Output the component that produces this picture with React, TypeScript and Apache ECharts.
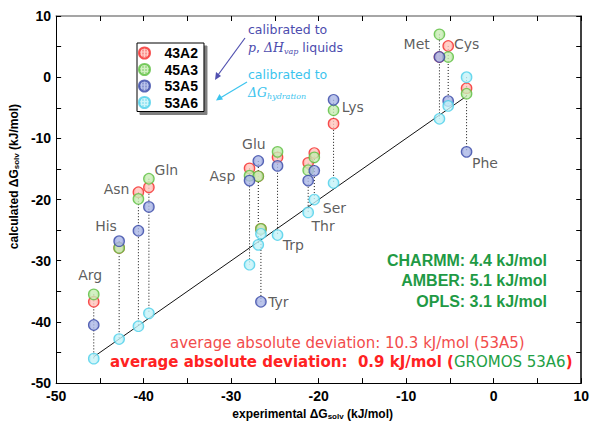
import React, { useEffect, useRef } from 'react';
import * as echarts from 'echarts';

// amino-acid side-chain analogues
const aminoAcids = ['Arg', 'His', 'Asn', 'Gln', 'Asp', 'Glu', 'Tyr', 'Trp', 'Thr', 'Ser', 'Lys', 'Met', 'Cys', 'Phe'];
// experimental ΔG_solv (kJ/mol)
const experimental = [-45.7, -42.8, -40.6, -39.4, -27.9, -26.9, -26.6, -24.7, -21.2, -20.5, -18.3, -6.2, -5.2, -3.1];
// calculated ΔG_solv (kJ/mol) per force-field version
const calc43A2 = [-36.7, -27.9, -18.8, -18.0, -14.9, -16.2, -24.8, -13.1, -14.0, -12.4, -7.6, 3.3, 5.1, -1.8];
const calc45A3 = [-35.5, -27.9, -19.9, -16.6, -16.1, -16.2, -24.8, -12.2, -15.2, -13.1, -5.4, 7.0, 3.3, -2.7];
const calc53A5 = [-40.5, -26.8, -25.1, -21.2, -16.9, -13.7, -36.7, -14.5, -16.9, -15.3, -3.7, 3.3, -3.9, -12.2];
const calc53A6 = [-46.0, -42.8, -40.7, -38.6, -30.65, -27.4, -25.6, -25.8, -22.1, -20.0, -17.3, -6.8, -4.7, 0.0];
// amino-acid name label anchors (data coordinates)
const labelX = [-46.1, -44.3, -43.1, -37.4, -31.0, -27.4, -24.6, -22.9, -19.5, -18.2, -16.1, -8.8, -3.1, -1.0];
const labelY = [-32.4, -24.3, -18.3, -15.2, -16.1, -11.0, -36.7, -27.4, -24.3, -21.3, -4.8, 5.4, 5.4, -14.1];

const seriesNames = ['43A2', '45A3', '53A5', '53A6'];
const seriesValues = [calc43A2, calc45A3, calc53A5, calc53A6];
const strokeColors = ['#f52a2a', '#5cbf40', '#3848a8', '#4cd0ea'];
const fillColors = ['#ffc4bc', '#c8ecb4', '#aab6e6', '#c4f2f8'];

// axis ticks
const axisMin = -50;
const axisMax = 10;
const axisStep = 10;

// deviation summaries
const otherFF = ['CHARMM: 4.4 kJ/mol', 'AMBER: 5.1 kJ/mol', 'OPLS: 3.1 kJ/mol'];

function hatch(stroke: string, fill: string): any {
  const c = document.createElement('canvas');
  c.width = 3;
  c.height = 3;
  const g = c.getContext('2d');
  if (!g) return fill;
  g.fillStyle = '#ffffff';
  g.fillRect(0, 0, 3, 3);
  g.fillStyle = fill;
  g.fillRect(0, 0, 3, 3);
  g.fillStyle = stroke;
  g.fillRect(1, 0, 1, 1);
  g.fillRect(1, 2, 1, 1);
  return { image: c, repeat: 'repeat' };
}

export default function App() {
  const ref = useRef<HTMLDivElement>(null);
  useEffect(() => {
    const chart = echarts.init(ref.current!, null, { renderer: 'svg' });

    const connectors = experimental.map((x, i) => {
      const vals = seriesValues.map((s) => s[i]);
      return {
        type: 'line',
        name: 'conn-' + aminoAcids[i],
        data: [[x, Math.max(...vals)], [x, Math.min(...vals)]],
        symbol: 'none',
        silent: true,
        lineStyle: { color: '#111', width: 1, type: [1, 2] },
        z: 1,
      };
    });

    const lo = Math.min(...experimental);
    const hi = Math.max(...experimental);
    const diagonal = {
      type: 'line',
      name: 'diag',
      data: [[lo, lo], [hi, hi]],
      symbol: 'none',
      silent: true,
      lineStyle: { color: '#111', width: 1 },
      z: 1,
    };

    const scatters = seriesNames.map((n, k) => ({
      type: 'scatter',
      name: n,
      data: experimental.map((x, i) => [x, seriesValues[k][i]]),
      symbol: 'circle',
      symbolSize: 10.5,
      itemStyle: { color: hatch(strokeColors[k], fillColors[k]), borderColor: strokeColors[k], borderWidth: 1.2 },
      z: 3,
    }));

    const labels = {
      type: 'scatter',
      name: 'labels',
      silent: true,
      symbolSize: 0.1,
      itemStyle: { color: 'transparent' },
      data: labelX.map((x, i) => ({ value: [x, labelY[i]], name: aminoAcids[i] })),
      label: {
        show: true,
        position: 'inside',
        formatter: '{b}',
        color: '#333',
        fontSize: 14,
        fontFamily: 'DejaVu Sans',
      },
      z: 4,
    };

    const axisLabelStyle = {
      fontSize: 14,
      fontWeight: 'bold',
      fontFamily: 'Liberation Sans',
      color: '#000',
    };
    const nameRich = {
      s: { fontSize: 8, fontWeight: 'bold', fontFamily: 'Liberation Sans', color: '#000', verticalAlign: 'bottom', lineHeight: 10 },
    };

    const option: any = {
      animation: false,
      backgroundColor: '#fff',
      grid: { left: 56, right: 7, top: 16, bottom: 40, containLabel: false },
      legend: {
        data: seriesNames,
        orient: 'vertical',
        left: 137,
        top: 43,
        itemWidth: 30,
        itemHeight: 11,
        itemGap: 2.5,
        padding: [3, 6, 2, 1],
        backgroundColor: '#fff',
        borderColor: '#000',
        borderWidth: 1,
        shadowColor: 'rgba(0,0,0,0.5)',
        shadowOffsetX: 3,
        shadowOffsetY: 3,
        shadowBlur: 1,
        textStyle: { fontSize: 14, fontWeight: 'bold', fontFamily: 'Liberation Sans', color: '#000' },
        selectedMode: false,
      },
      xAxis: [
        {
          type: 'value',
          position: 'bottom',
          min: axisMin,
          max: axisMax,
          interval: axisStep,
          axisLine: { onZero: false, lineStyle: { color: '#000', width: 1 } },
          axisTick: { inside: true, length: 5, lineStyle: { color: '#000' } },
          minorTick: { show: true, splitNumber: 2, length: 5, lineStyle: { color: '#000' } },
          splitLine: { show: false },
          axisLabel: { ...axisLabelStyle, margin: 6 },
          name: 'experimental ΔG{s|solv} (kJ/mol)',
          nameLocation: 'middle',
          nameGap: 22,
          nameTextStyle: { fontSize: 12, fontWeight: 'bold', fontFamily: 'Liberation Sans', color: '#000', rich: nameRich, padding: [0, 12, 0, 0] },
        },
        {
          type: 'value',
          position: 'top',
          min: axisMin,
          max: axisMax,
          interval: axisStep,
          axisLine: { onZero: false, lineStyle: { color: '#888', width: 1.5 } },
          axisTick: { inside: true, length: 5, lineStyle: { color: '#000' } },
          minorTick: { show: true, splitNumber: 2, length: 5, lineStyle: { color: '#000' } },
          splitLine: { show: false },
          axisLabel: { show: false },
        },
      ],
      yAxis: [
        {
          type: 'value',
          position: 'left',
          min: axisMin,
          max: axisMax,
          interval: axisStep,
          axisLine: { show: true, onZero: false, lineStyle: { color: '#000', width: 1 } },
          axisTick: { show: true, inside: true, length: 5, lineStyle: { color: '#000' } },
          minorTick: { show: true, splitNumber: 2, length: 5, lineStyle: { color: '#000' } },
          splitLine: { show: false },
          axisLabel: { ...axisLabelStyle, margin: 5 },
          name: 'calculated ΔG{s|solv} (kJ/mol)',
          nameLocation: 'middle',
          nameGap: 32,
          nameTextStyle: { fontSize: 12, fontWeight: 'bold', fontFamily: 'Liberation Sans', color: '#000', rich: nameRich, padding: [0, 0, 0, 46] },
        },
        {
          type: 'value',
          position: 'right',
          min: axisMin,
          max: axisMax,
          interval: axisStep,
          axisLine: { show: true, onZero: false, lineStyle: { color: '#000', width: 1.5 } },
          axisTick: { show: true, inside: true, length: 5, lineStyle: { color: '#000' } },
          minorTick: { show: true, splitNumber: 2, length: 5, lineStyle: { color: '#000' } },
          splitLine: { show: false },
          axisLabel: { show: false },
        },
      ],
      series: [...connectors, diagonal, ...scatters, labels],
      graphic: [
        // annotation: calibrated to p, ΔHvap
        {
          type: 'text', x: 248, y: 29,
          style: { text: 'calibrated to', font: '12.5px "DejaVu Sans"', fill: '#4c4cae', textVerticalAlign: 'middle' },
        },
        {
          type: 'text', x: 248, y: 47,
          style: {
            text: '{i|p}{n|, }{i|ΔH}{s|vap}{n| liquids}',
            textVerticalAlign: 'middle',
            rich: {
              i: { font: 'italic 12.5px "DejaVu Serif"', fill: '#4c4cae', lineHeight: 16 },
              n: { font: '12.5px "DejaVu Sans"', fill: '#4c4cae', lineHeight: 16 },
              s: { font: 'italic 8px "DejaVu Serif"', fill: '#4c4cae', verticalAlign: 'bottom', lineHeight: 8 },
            },
          },
        },
        {
          type: 'text', x: 248, y: 74,
          style: { text: 'calibrated to', font: '12.5px "DejaVu Sans"', fill: '#3cc4ee', textVerticalAlign: 'middle' },
        },
        {
          type: 'text', x: 248, y: 92,
          style: {
            text: '{i|ΔG}{s|hydration}',
            textVerticalAlign: 'middle',
            rich: {
              i: { font: 'italic 12.5px "DejaVu Serif"', fill: '#3cc4ee', lineHeight: 16 },
              s: { font: 'italic 8px "DejaVu Serif"', fill: '#3cc4ee', verticalAlign: 'bottom', lineHeight: 8 },
            },
          },
        },
        // arrows
        { type: 'line', shape: { x1: 245, y1: 38, x2: 218, y2: 75 }, style: { stroke: '#5050b0', lineWidth: 1.2 } },
        { type: 'polygon', shape: { points: [[215, 80], [216, 72], [221, 76]] }, style: { fill: '#5050b0' } },
        { type: 'line', shape: { x1: 247, y1: 82, x2: 221, y2: 97.5 }, style: { stroke: '#3cc4ee', lineWidth: 1.2 } },
        { type: 'polygon', shape: { points: [[216, 100.5], [219.5, 94], [223, 99.5]] }, style: { fill: '#3cc4ee' } },
        // other force fields
        ...otherFF.map((t, i) => ({
          type: 'text', x: 547, y: 260 + i * 20.7,
          style: { text: t, font: 'bold 16px "Liberation Sans"', fill: '#1f9a45', textAlign: 'right', textVerticalAlign: 'middle' },
        })),
        // deviation lines
        {
          type: 'text', x: 170, y: 343,
          style: { text: 'average absolute deviation: 10.3 kJ/mol (53A5)', font: '15px "DejaVu Sans"', fill: '#f24c4c', textVerticalAlign: 'middle' },
        },
        {
          type: 'text', x: 110, y: 362,
          style: {
            text: '{b|average absolute deviation:  0.9 kJ/mol (}{g|GROMOS 53A6}{b|)}',
            textVerticalAlign: 'middle',
            rich: {
              b: { font: 'bold 15px "DejaVu Sans"', fill: '#ff2222' },
              g: { font: '15px "DejaVu Sans"', fill: '#22a045' },
            },
          },
        },
      ],
    };

    chart.setOption(option);
    return () => chart.dispose();
  }, []);
  return <div ref={ref} style={{ position: 'fixed', left: 0, top: 0, width: 592, height: 425 }} />;
}
